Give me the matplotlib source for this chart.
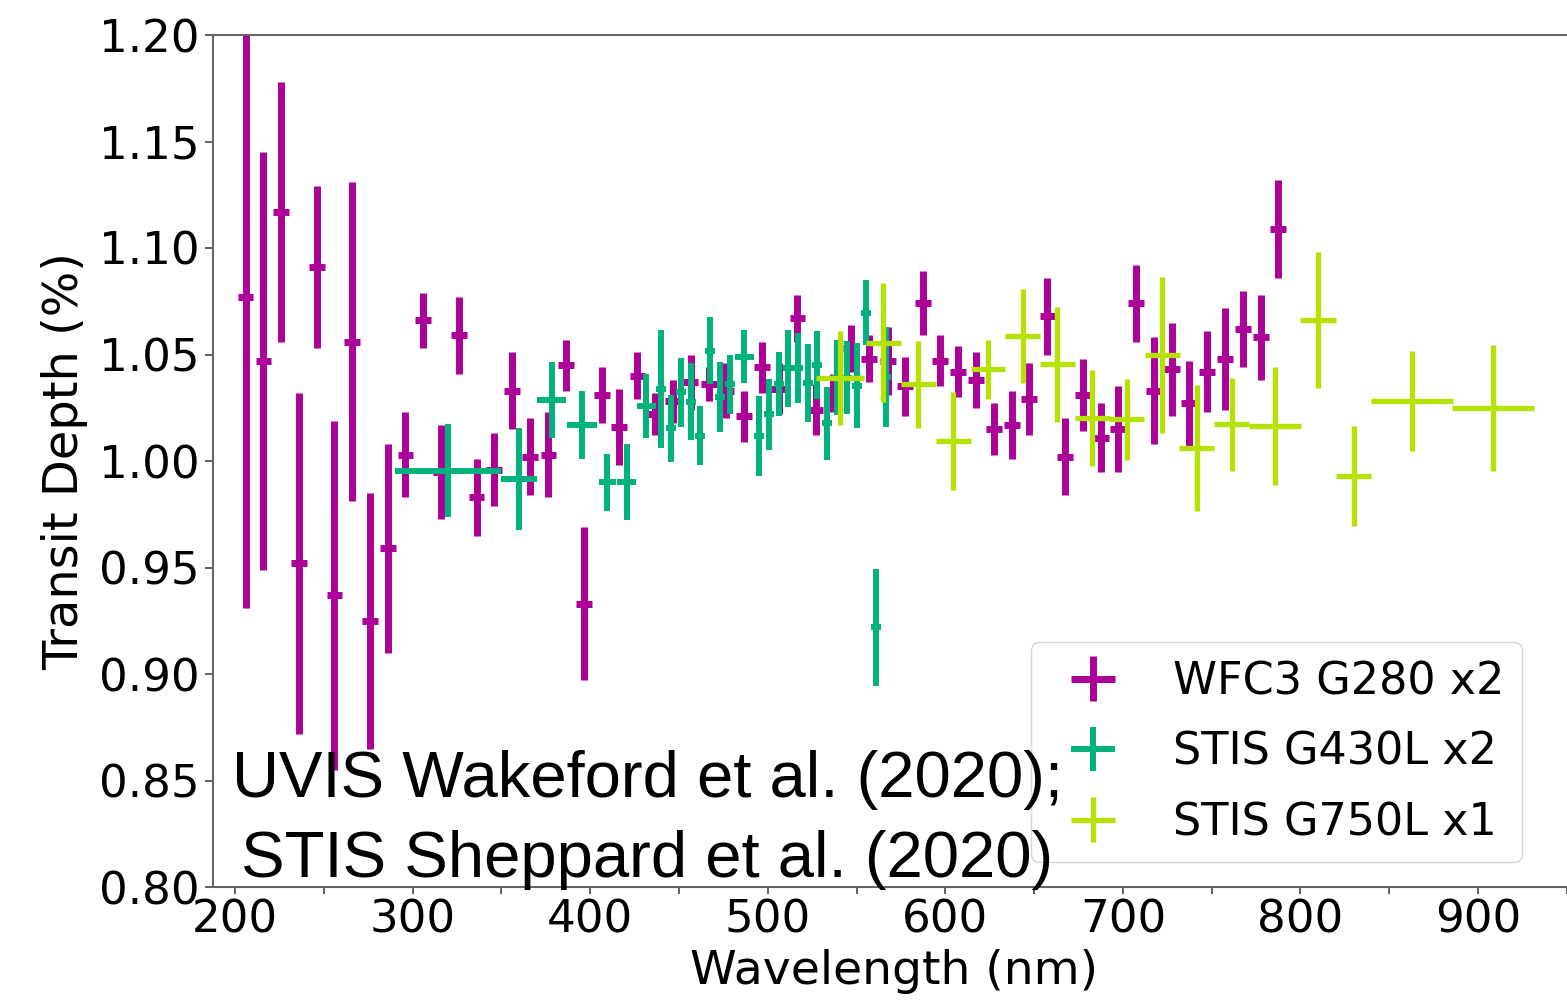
import matplotlib
matplotlib.use('Agg')
import matplotlib.pyplot as plt
from matplotlib.ticker import MultipleLocator, FormatStrFormatter

# WFC3 G280 (UVIS)
wfc3_wl = [206, 216, 226, 236, 246, 256, 266, 276, 286, 296, 306, 316, 326, 336, 346,
           356, 366, 376.5, 386.4, 396.7, 406.5, 416.4, 426.6, 436.5, 446.5, 456.6, 467,
           476.5, 486.6, 496.6, 506.5, 516.7, 527, 537, 547, 557, 567.9, 577.3, 587.6,
           597, 607, 617.3, 627.4, 637.4, 647.3, 657.5, 667.4, 677.4, 687.5, 697.4,
           707.4, 717.5, 727.5, 737.4, 747.5, 757.5, 767.8, 777.8, 787.4]
wfc3_depth = [1.077, 1.047, 1.117, 0.952, 1.091, 0.937, 1.056, 0.925, 0.959, 1.003, 1.066,
              0.995, 1.059, 0.983, 0.996, 1.033, 1.002, 1.003, 1.045, 0.933, 1.031, 1.016,
              1.040, 1.022, 1.028, 1.037, 1.036, 1.033, 1.021, 1.044, 1.034, 1.067, 1.024,
              1.032, 1.053, 1.048, 1.047, 1.035, 1.074, 1.047, 1.042, 1.038, 1.015, 1.017,
              1.029, 1.068, 1.002, 1.031, 1.011, 1.015, 1.074, 1.033, 1.043, 1.027, 1.042,
              1.048, 1.062, 1.058, 1.109]
wfc3_err = [0.146, 0.098, 0.061, 0.080, 0.038, 0.082, 0.075, 0.060, 0.049, 0.020, 0.013,
            0.022, 0.018, 0.018, 0.017, 0.018, 0.018, 0.020, 0.012, 0.036, 0.013, 0.018,
            0.011, 0.010, 0.010, 0.013, 0.008, 0.013, 0.012, 0.012, 0.012, 0.011, 0.012,
            0.009, 0.011, 0.011, 0.016, 0.014, 0.015, 0.012, 0.012, 0.013, 0.012, 0.016,
            0.017, 0.018, 0.018, 0.017, 0.016, 0.020, 0.018, 0.025, 0.022, 0.020, 0.019,
            0.024, 0.018, 0.020, 0.023]
wfc3_xerr = 4.4

# STIS G430L
g430_wl = [320, 360, 378.3, 395.2, 409.7, 420.6, 431.5, 440, 445.4, 451, 456.6, 462,
           467.5, 473.1, 478.8, 486.8, 495.3, 500.7, 506.4, 511.6, 517.2, 522.7, 528,
           533.6, 539.2, 544.8, 550.1, 555.6, 561, 566.4]
g430_xerr = [30, 10, 8, 8.5, 5, 5.4, 5.3, 2.8, 2.8, 2.8, 2.8, 2.8, 2.8, 2.8, 2.8, 5.2,
             2.8, 2.8, 2.8, 2.8, 2.8, 2.8, 2.8, 2.8, 2.8, 2.8, 2.8, 2.8, 2.8, 2.8]
g430_depth = [0.9955, 0.9915, 1.0286, 1.0169, 0.990, 0.990, 1.0258, 1.0338, 1.0153,
              1.0322, 1.0279, 1.0119, 1.0518, 1.0299, 1.036, 1.049, 1.0117, 1.0219,
              1.0362, 1.0435, 1.0435, 1.0365, 1.0451, 1.0177, 1.0392, 1.0392, 1.0354,
              1.0697, 0.9219, 1.0396]
g430_err = [0.022, 0.024, 0.018, 0.016, 0.0135, 0.0178, 0.015, 0.0276, 0.0157, 0.0162,
            0.018, 0.0139, 0.0158, 0.0165, 0.014, 0.0124, 0.0186, 0.0167, 0.0149, 0.0182,
            0.0165, 0.0184, 0.0158, 0.0172, 0.0176, 0.017, 0.020, 0.0153, 0.0276, 0.0235]

# STIS G750L
g750_wl = [540.7, 565, 584.8, 604.5, 624, 643.6, 663.1, 682.8, 702.2, 722.2, 741.6,
           761.3, 785.7, 810, 830, 862.7, 908.6]
g750_xerr = [13.6, 9.8, 9.8, 9.8, 9.8, 9.8, 9.8, 9.8, 9.8, 9.8, 9.8, 9.8, 14.5, 10, 10,
             23, 23]
g750_depth = [1.039, 1.0556, 1.036, 1.0094, 1.043, 1.0587, 1.0455, 1.0203, 1.0197, 1.0498,
              1.006, 1.0172, 1.0164, 1.0662, 0.993, 1.0283, 1.0247]
g750_err = [0.022, 0.028, 0.0205, 0.023, 0.0137, 0.022, 0.027, 0.0225, 0.019, 0.0365,
            0.0295, 0.0219, 0.0277, 0.032, 0.0235, 0.0234, 0.0296]

W, H = 1567, 1001
fig = plt.figure(figsize=(W / 100, H / 100), dpi=100)
ax = fig.add_axes([213 / W, 1 - 887 / H, 1362.7 / W, 852 / H])

ax.errorbar(wfc3_wl, wfc3_depth, yerr=wfc3_err, xerr=wfc3_xerr, fmt='none',
            ecolor='#ad0098', elinewidth=5, label='WFC3 G280 x2')
ax.errorbar(g430_wl, g430_depth, yerr=g430_err, xerr=g430_xerr, fmt='none',
            ecolor='#00b37c', elinewidth=4.3, label='STIS G430L x2')
ax.errorbar(g750_wl, g750_depth, yerr=g750_err, xerr=g750_xerr, fmt='none',
            ecolor='#b5e200', elinewidth=3.8, label='STIS G750L x1')

ax.set_xlim(187.6, 955)
ax.set_ylim(0.80, 1.20)
ax.xaxis.set_major_locator(MultipleLocator(100))
ax.xaxis.set_minor_locator(MultipleLocator(50))
ax.yaxis.set_major_locator(MultipleLocator(0.05))
ax.yaxis.set_major_formatter(FormatStrFormatter('%.2f'))
ax.tick_params(which='both', direction='out', length=5, width=1.3, color='#555555',
               labelsize=32.5)
ax.tick_params(axis='y', length=6)
for s in ax.spines.values():
    s.set_color('#666666')
    s.set_linewidth(1.5)

ax.set_xlabel('Wavelength (nm)', fontsize=34, labelpad=5)
ax.set_ylabel('Transit Depth (%)', fontsize=34.5, labelpad=8)

ax.legend(loc='lower right', bbox_to_anchor=(0.9606, 0.0293), borderaxespad=0,
          fontsize=32, labelspacing=0.62)

fig.text(647 / W, 1 - 797 / H, 'UVIS Wakeford et al. (2020);', ha='center',
         va='baseline', fontsize=47, family='Liberation Sans', zorder=10)
fig.text(647 / W, 1 - 877 / H, 'STIS Sheppard et al. (2020)', ha='center',
         va='baseline', fontsize=47, family='Liberation Sans', zorder=10)

fig.savefig('out.png', dpi=100)
